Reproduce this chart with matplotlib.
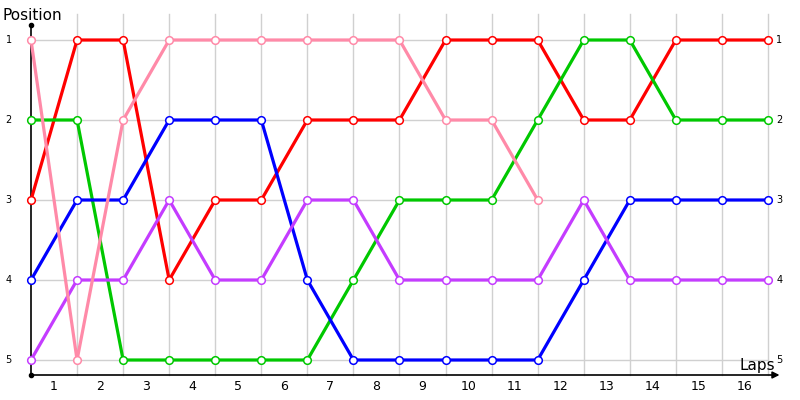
import matplotlib
matplotlib.use('Agg')
import matplotlib.pyplot as plt

matplotlib.rc('font', family='DejaVu Sans')

# lap 0 is the starting grid, laps 1..16 follow
laps = list(range(0, 17))
lap_labels = [str(i) for i in range(1, 17)]
positions = [1, 2, 3, 4, 5]

red = [3, 1, 1, 4, 3, 3, 2, 2, 2, 1, 1, 1, 2, 2, 1, 1, 1]
green = [2, 2, 5, 5, 5, 5, 5, 4, 3, 3, 3, 2, 1, 1, 2, 2, 2]
blue = [4, 3, 3, 2, 2, 2, 4, 5, 5, 5, 5, 5, 4, 3, 3, 3, 3]
purple = [5, 4, 4, 3, 4, 4, 3, 3, 4, 4, 4, 4, 3, 4, 4, 4, 4]
pink = [1, 5, 2, 1, 1, 1, 1, 1, 1, 2, 2, 3]  # retired after lap 11

series = [
    (red, '#ff0000'),
    (green, '#00c800'),
    (blue, '#0000ff'),
    (purple, '#c43cff'),
    (pink, '#ff8aa8'),
]

fig = plt.figure(figsize=(8, 4), dpi=100)
ax = fig.add_axes([0, 0, 1, 1])
ax.set_xlim(-0.673, 16.695)
ax.set_ylim(5.5, 0.5)
ax.axis('off')

grid = '#d0d0d0'
for x in laps[1:]:
    ax.plot([x, x], [0.675, 5.1875], color=grid, lw=1, zorder=1)
for p in positions:
    ax.plot([0, 16], [p, p], color=grid, lw=1, zorder=1)

# axes with arrows
ax.plot([0, 0], [5.1875, 0.8125], color='black', lw=1.2, zorder=2)
ax.plot([0], [0.8125], marker='o', ms=3, color='black', zorder=2)
ax.plot([0], [5.1875], marker='o', ms=3, color='black', zorder=2)
ax.annotate('', xy=(16.25, 5.1875), xytext=(0, 5.1875),
            arrowprops=dict(arrowstyle='-|>', color='black', lw=1.2,
                            mutation_scale=10, shrinkA=0, shrinkB=0),
            zorder=2)

for vals, c in series:
    ax.plot(laps[:len(vals)], vals, color=c, lw=2.3, zorder=3,
            marker='o', ms=5.5, mfc='white', mec=c, mew=1.1)

for p in positions:
    ax.text(-0.42, p, str(p), ha='right', va='center', fontsize=7)
    ax.text(16.18, p, str(p), ha='left', va='center', fontsize=7)

for i, lab in enumerate(lap_labels):
    ax.text(i + 0.5, 5.335, lab, ha='center', va='center', fontsize=9)

ax.text(-0.62, 0.79, 'Position', ha='left', va='bottom', fontsize=11)
ax.text(16.15, 5.16, 'Laps', ha='right', va='bottom', fontsize=11)

plt.savefig('out.png', dpi=100)
